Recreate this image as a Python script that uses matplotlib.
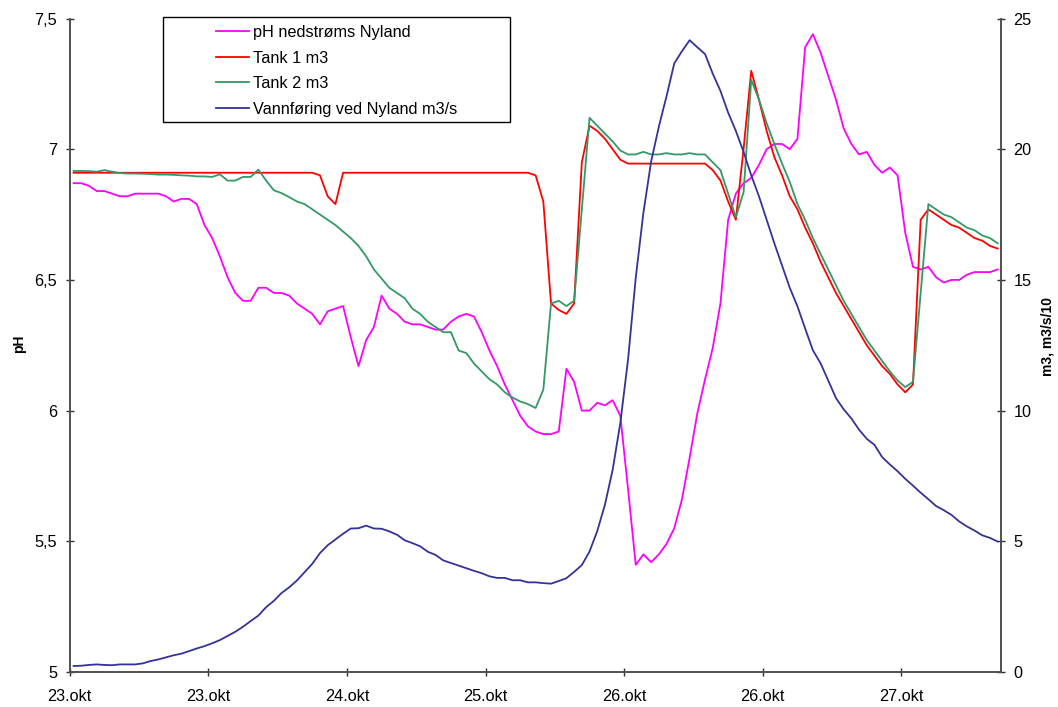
import matplotlib
matplotlib.use("Agg")
import matplotlib.pyplot as plt
from matplotlib.patches import Rectangle
from matplotlib.ticker import FuncFormatter
import numpy as np

plt.rcParams['font.family'] = ['Liberation Sans', 'DejaVu Sans']

# timer fra 23.okt kl 00 (ett maalepunkt per time)
timer = np.arange(0.5, 121, 1.0)

x_ticks_timer = [0, 18, 36, 54, 72, 90, 108]
x_tick_labels = ['23.okt', '23.okt', '24.okt', '25.okt', '26.okt', '26.okt', '27.okt']

# pH nedstrøms Nyland (venstre akse)
ph_nyland = [
    6.87, 6.87, 6.86, 6.84, 6.84, 6.83, 6.82, 6.82, 6.83, 6.83, 6.83,
    6.83, 6.82, 6.80, 6.81, 6.81, 6.79, 6.71, 6.66, 6.59, 6.51,
    6.45, 6.42, 6.42, 6.47, 6.47, 6.45, 6.45, 6.44, 6.41, 6.39,
    6.37, 6.33, 6.38, 6.39, 6.40, 6.28, 6.17, 6.27, 6.32, 6.44,
    6.39, 6.37, 6.34, 6.33, 6.33, 6.32, 6.31, 6.31, 6.34, 6.36,
    6.37, 6.36, 6.30, 6.23, 6.17, 6.10, 6.04, 5.98, 5.94, 5.92,
    5.91, 5.91, 5.92, 6.16, 6.11, 6.00, 6.00, 6.03, 6.02, 6.04,
    5.98, 5.70, 5.41, 5.45, 5.42, 5.45, 5.49, 5.55, 5.66, 5.82,
    5.99, 6.12, 6.24, 6.41, 6.73, 6.83, 6.87, 6.89, 6.94, 7.00,
    7.02, 7.02, 7.00, 7.04, 7.39, 7.44, 7.37, 7.28, 7.19, 7.08,
    7.02, 6.98, 6.99, 6.94, 6.91, 6.93, 6.90, 6.68, 6.55, 6.54,
    6.55, 6.51, 6.49, 6.50, 6.50, 6.52, 6.53, 6.53, 6.53, 6.54,
]

# Tank 1 m3 (høyre akse)
tank1 = (
    [19.1] * 32
    + [19.0, 18.2, 17.9, 19.1]
    + [19.1] * 24
    + [19.0, 18.0, 14.1, 13.85, 13.7, 14.1, 19.5, 20.9, 20.7, 20.4, 20.0, 19.6]
    + [19.45] * 11
    + [19.2, 18.8, 18.0, 17.3, 20.0, 23.0, 21.9, 20.7, 19.7, 19.0,
       18.2, 17.7, 17.0, 16.4, 15.7, 15.1, 14.5, 14.0, 13.5, 13.0,
       12.5, 12.1, 11.7, 11.4, 11.0, 10.7, 11.0, 17.3, 17.7, 17.5,
       17.3, 17.1, 17.0, 16.8, 16.6, 16.5, 16.3, 16.2]
)

# Tank 2 m3 (høyre akse)
tank2 = [
    19.17, 19.17, 19.16, 19.14, 19.2, 19.14, 19.09, 19.07, 19.07, 19.06,
    19.05, 19.03, 19.03, 19.02, 19.0, 18.99, 18.96, 18.96, 18.94, 19.04,
    18.8, 18.8, 18.94, 18.94, 19.22, 18.8, 18.43, 18.32, 18.17, 18.0,
    17.9, 17.7, 17.5, 17.3, 17.1, 16.85, 16.6, 16.3, 15.9, 15.4,
    15.05, 14.7, 14.5, 14.3, 13.9, 13.7, 13.4, 13.2, 13.0, 13.0,
    12.3, 12.2, 11.8, 11.5, 11.2, 11.0, 10.7, 10.5, 10.35, 10.25, 10.1,
    10.8, 14.1, 14.2, 14.0, 14.2, 17.7, 21.2, 20.9, 20.6, 20.3,
    19.95, 19.8, 19.8, 19.9, 19.8, 19.8, 19.85, 19.8, 19.8, 19.85,
    19.8, 19.8, 19.5, 19.2, 18.3, 17.4, 18.35, 22.65, 21.9, 21.0,
    20.2, 19.45, 18.75, 17.9, 17.3, 16.6, 16.0, 15.4, 14.8, 14.2,
    13.7, 13.2, 12.7, 12.3, 11.9, 11.5, 11.15, 10.9, 11.1, 14.5,
    17.9, 17.7, 17.5, 17.4, 17.2, 17.0, 16.9, 16.7, 16.6, 16.4,
]

# Vannføring ved Nyland m3/s (/10, høyre akse)
vannforing = [
    0.23, 0.24, 0.27, 0.29, 0.27, 0.26, 0.29, 0.29, 0.29, 0.33,
    0.42, 0.48, 0.56, 0.64, 0.70, 0.80, 0.90, 0.99, 1.10, 1.22,
    1.38, 1.54, 1.73, 1.95, 2.16, 2.48, 2.72, 3.02, 3.24, 3.50,
    3.82, 4.14, 4.55, 4.85, 5.07, 5.29, 5.49, 5.50, 5.60, 5.49,
    5.48, 5.38, 5.25, 5.04, 4.93, 4.81, 4.60, 4.48, 4.27, 4.17,
    4.07, 3.97, 3.87, 3.78, 3.66, 3.60, 3.60, 3.51, 3.51, 3.43,
    3.43, 3.40,
    3.38, 3.48, 3.59, 3.83, 4.09, 4.61, 5.39, 6.40, 7.73, 9.53,
    11.95, 15.08, 17.58, 19.53, 20.86, 22.03, 23.28, 23.75, 24.17, 23.9,
    23.64, 22.89, 22.23, 21.4, 20.7, 19.9, 19.0, 18.2, 17.3, 16.4,
    15.55, 14.70, 13.99, 13.14, 12.31, 11.81, 11.15, 10.48, 10.05, 9.70,
    9.27, 8.92, 8.69, 8.22, 7.94, 7.68, 7.39, 7.13, 6.86, 6.61,
    6.35, 6.19, 6.01, 5.76, 5.57, 5.41, 5.23, 5.13, 4.99,
]

fs = 11.7
fig = plt.figure(figsize=(10.58, 7.07), dpi=100)
ax = fig.add_axes([0.0659, 0.0495, 0.88, 0.9243])
ax2 = ax.twinx()

l1, = ax.plot(timer, ph_nyland, color='#FF00FF', lw=1.3)
l2, = ax2.plot(timer, tank1, color='#FF0000', lw=1.3)
l3, = ax2.plot(timer, tank2, color='#339966', lw=1.3)
l4, = ax2.plot(timer, vannforing, color='#333399', lw=1.3)

ax.set_xlim(0, 120.9)
ax.set_ylim(5, 7.5)
ax2.set_ylim(0, 25)
ax.set_yticks([5, 5.5, 6, 6.5, 7, 7.5])
ax.yaxis.set_major_formatter(FuncFormatter(lambda v, p: f'{v:g}'.replace('.', ',')))
ax2.set_yticks([0, 5, 10, 15, 20, 25])
ax.set_xticks(x_ticks_timer)
ax.set_xticklabels(x_tick_labels)

for a in (ax, ax2):
    a.spines['top'].set_visible(False)
    for s in ('left', 'right', 'bottom'):
        a.spines[s].set_color('#505050')
        a.spines[s].set_linewidth(1.2)
    a.tick_params(direction='inout', length=6, width=1, color='#303030',
                  labelsize=fs, pad=6)
ax.tick_params(axis='x', pad=9.5)

# aksetitler
fig.text(18.6 / 1058, 1 - 344 / 707, 'pH', fontsize=10, fontweight='bold',
         rotation=90, ha='center', va='center')
fig.text(1047 / 1058, 1 - 336 / 707, 'm3, m3/s/10', fontsize=10, fontweight='bold',
         rotation=90, ha='center', va='center')

# legendeboks som i Excel
fig.add_artist(Rectangle((163 / 1058, 1 - 122.4 / 707), 347 / 1058, 105.5 / 707,
                         transform=fig.transFigure, facecolor='white',
                         edgecolor='black', lw=1, zorder=5))
fig.legend([l1, l2, l3, l4],
           ['pH nedstrøms Nyland', 'Tank 1 m3', 'Tank 2 m3', 'Vannføring ved Nyland m3/s'],
           loc='upper left', bbox_to_anchor=(216 / 1058, 1 - 25 / 707),
           frameon=False, fontsize=fs, handlelength=2.06, handletextpad=0.2,
           labelspacing=0.65, borderpad=0, borderaxespad=0).set_zorder(6)

fig.savefig('out.png', dpi=100)
